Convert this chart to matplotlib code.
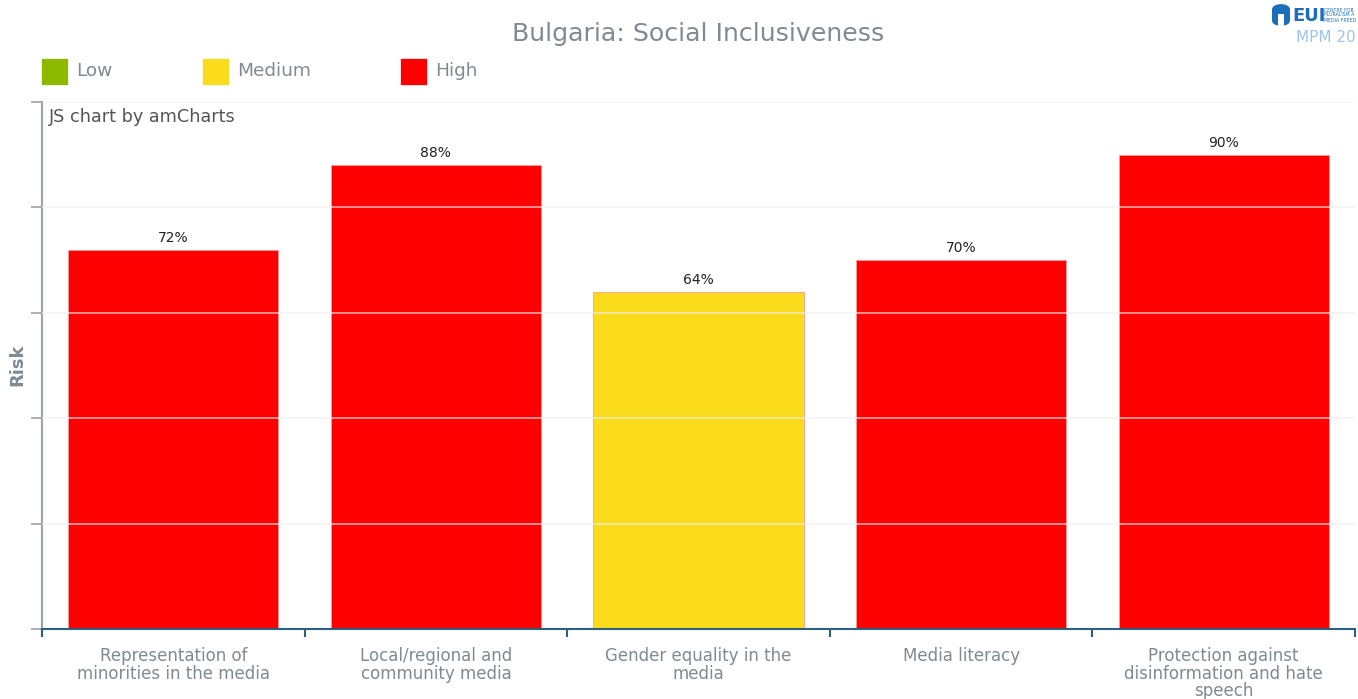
import matplotlib.pyplot as plt
import matplotlib.patches as mpatches
import numpy as np

categories = [
    "Representation of\nminorities in the media",
    "Local/regional and\ncommunity media",
    "Gender equality in the\nmedia",
    "Media literacy",
    "Protection against\ndisinformation and hate\nspeech",
]
values = [72, 88, 64, 70, 90]
risk_levels = ["High", "High", "Medium", "High", "High"]

legend_labels = ["Low", "Medium", "High"]
RISK_COLORS = {"Low": "#8cb800", "Medium": "#fadc1c", "High": "#ff0000"}

GREY_TEXT = "#7f8a93"

plt.rcParams["font.family"] = ["DejaVu Sans"]

fig = plt.figure(figsize=(13.58, 6.99), dpi=100)
ax = fig.add_axes([42 / 1358, 1 - 629 / 699, (1355 - 42) / 1358, (629 - 102) / 699])

x = np.arange(len(categories))
colors = [RISK_COLORS[r] for r in risk_levels]
ax.bar(x, values, width=0.8, color=colors, edgecolor="#ff9a9a", linewidth=0.6, zorder=2)
for xi, v in zip(x, values):
    ax.text(xi, v + 0.9, f"{v}%", ha="center", va="bottom", fontsize=10, color="#222222", zorder=4)

ax.set_xlim(-0.5, len(categories) - 0.5)
ax.set_ylim(0, 100)

# faint horizontal grid, drawn on top of the bars
for gy in range(20, 101, 20):
    ax.axhline(gy, color="#eeeeee", linewidth=1.2, alpha=0.7, zorder=3)

for side in ("top", "right"):
    ax.spines[side].set_visible(False)
ax.spines["left"].set_color("#9aa2aa")
ax.spines["left"].set_linewidth(1.5)
ax.spines["bottom"].set_color("#2d5f80")
ax.spines["bottom"].set_linewidth(1.5)
ax.spines["bottom"].set_zorder(5)

ax.set_yticks(range(0, 101, 20))
ax.set_yticklabels([])
ax.tick_params(axis="y", direction="out", length=8, width=1.2, color="#9aa2aa")

# x ticks sit on category boundaries
ax.set_xticks(np.arange(-0.5, len(categories), 1.0))
ax.set_xticklabels([])
ax.tick_params(axis="x", direction="out", length=6, width=1.5, color="#2d5f80")
for xi, cat in zip(x, categories):
    ax.text(xi, -3.4, cat, ha="center", va="top", fontsize=12, color=GREY_TEXT,
            linespacing=0.98, transform=ax.transData, clip_on=False)

fig.text(17 / 1358, 1 - 365 / 699, "Risk", rotation=90, ha="center", va="center",
         fontsize=13, fontweight="bold", color=GREY_TEXT)

ax.text((49 - 42) / 1313, 1 - (117 - 102) / 527, "JS chart by amCharts", transform=ax.transAxes,
        ha="left", va="center", fontsize=12.7, color="#555555")

fig.text(698 / 1358, 1 - 34 / 699, "Bulgaria: Social Inclusiveness", ha="center", va="center",
         fontsize=18.2, color=GREY_TEXT)

# legend row
legend_x = [41, 202, 400]
for lx, lab in zip(legend_x, legend_labels):
    fig.patches.append(mpatches.Rectangle((lx / 1358, 1 - 85 / 699), 27 / 1358, 27 / 699,
                                          transform=fig.transFigure, facecolor=RISK_COLORS[lab],
                                          edgecolor="white", linewidth=0.5))
    fig.text((lx + 35) / 1358, 1 - 71.5 / 699, lab, ha="left", va="center", fontsize=13.3,
             color=GREY_TEXT)

# logo in the top right corner
fig.patches.append(mpatches.FancyBboxPatch((1272 / 1358, 1 - 26 / 699), 18 / 1358, 22 / 699,
                                           boxstyle="round,pad=0,rounding_size=0.008",
                                           transform=fig.transFigure, facecolor="#1a6fb8",
                                           edgecolor="none"))
fig.patches.append(mpatches.Rectangle((1278 / 1358, 1 - 26 / 699), 6 / 1358, 12 / 699,
                                      transform=fig.transFigure, facecolor="white",
                                      edgecolor="none"))
fig.text(1292 / 1358, 1 - 16 / 699, "EUI", ha="left", va="center", fontsize=13,
         fontweight="bold", color="#1a6fb8", family="DejaVu Sans Condensed")
fig.text(1324 / 1358, 1 - 15 / 699, "CENTRE FOR\nPLURALISM A\nMEDIA FREED", ha="left", va="center",
         fontsize=3.3, color="#1a6fb8", linespacing=1.0)
fig.text(1296 / 1358, 1 - 38 / 699, "MPM 20", ha="left", va="center", fontsize=11,
         color="#9cc4ea")

fig.savefig("out.png", dpi=100, facecolor="white")
